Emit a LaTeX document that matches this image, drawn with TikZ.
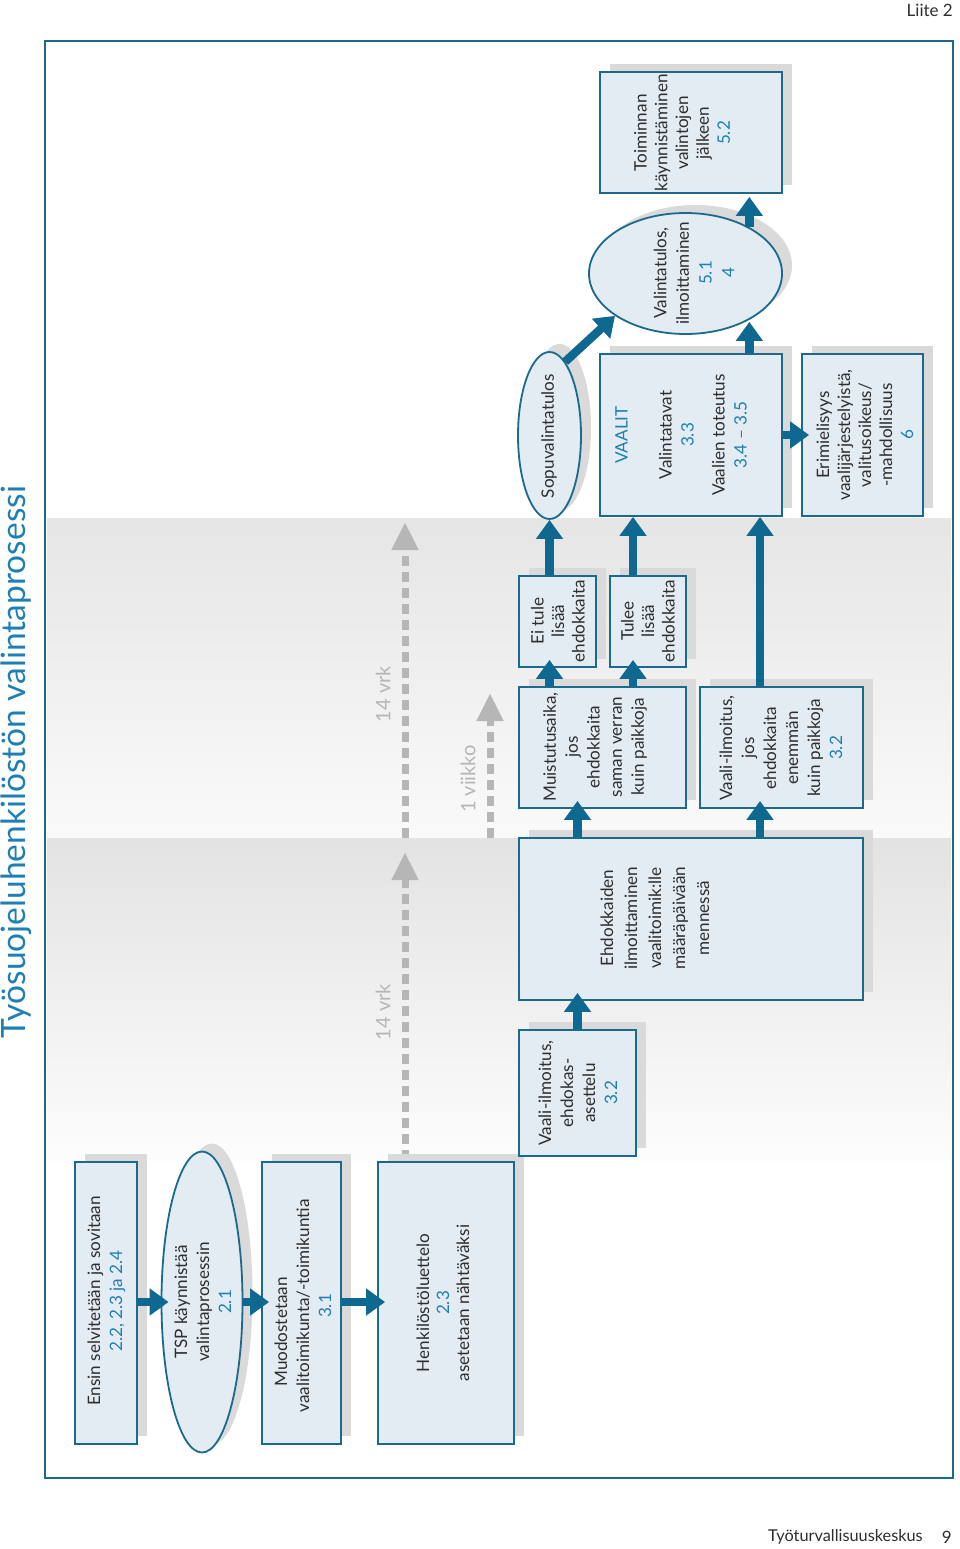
\documentclass[tikz,border=0pt]{standalone}
\usepackage{fontspec}
\setmainfont{Lato}
\usetikzlibrary{arrows.meta,shapes.geometric,shadows}
\definecolor{boxfill}{HTML}{E3EBF3}
\definecolor{border}{HTML}{1B6A8C}
\definecolor{arrowblue}{HTML}{0F6890}
\definecolor{num}{HTML}{1F7FB0}
\definecolor{textgray}{HTML}{2E2E2E}
\definecolor{shadowgray}{HTML}{DADADA}
\definecolor{dashgray}{HTML}{B6B6B6}
\definecolor{titleblue}{HTML}{1E7FB5}
\newcommand\numc[1]{\textcolor{num}{#1}}
\begin{document}
\begin{tikzpicture}[x=1pt,y=-1pt,
  box/.style={draw=border, line width=1.8pt, fill=boxfill, inner sep=0pt,
    drop shadow={shadow xshift=10pt,shadow yshift=8pt,fill=shadowgray,opacity=1}},
  ell/.style={box, ellipse},
  txt/.style={rotate=90, align=center, inner sep=0pt, text=textgray,
    font=\fontsize{17.1}{22}\selectfont},
  bigarrow/.style={draw=arrowblue, line width=8.5pt, -{Triangle[width=26pt,length=19pt]}, shorten >=-8pt},
  graydash/.style={draw=dashgray, line width=7pt, dash pattern=on 10pt off 6pt, -{Triangle[width=25pt,length=28pt]}},
  graylbl/.style={rotate=90, inner sep=0pt, text=dashgray, font=\fontsize{20}{22}\selectfont}]
\useasboundingbox (0,0) rectangle (960,1549);
\fill[white] (0,0) rectangle (960,1549);
% bands
\shade[top color=black!10, bottom color=black!2] (47,518) rectangle (951,838);
\shade[top color=black!11, bottom color=black!1] (47,838) rectangle (951,1160);
% frame
\draw[border, line width=2pt] (45,41) rectangle (953,1478);
% title, header, footer
\node[rotate=90, inner sep=0pt, text=titleblue, font=\fontsize{33.5}{36}\selectfont] (title) at (16,762) {Työsuojeluhenkilöstön valintaprosessi};
\node[anchor=east, inner sep=0pt, text=textgray, font=\fontsize{17}{20}\selectfont] (liite) at (953,10) {Liite 2};
\node[anchor=west, inner sep=0pt, text=textgray, font=\fontsize{16.3}{20}\selectfont] (tyo) at (768,1537) {Työturvallisuuskeskus};
\node[anchor=east, inner sep=0pt, text=textgray, font=\fontsize{17}{20}\selectfont] (sivu) at (952,1537) {9};

% dashed time arrows
\coordinate (d1s) at (405,1160); \coordinate (d1e) at (405,852);
\coordinate (d2s) at (405,838);  \coordinate (d2e) at (405,522);
\coordinate (d3s) at (490,838);  \coordinate (d3e) at (490,693);
\draw[graydash] (d1s) -- (d1e);
\draw[graydash] (d2s) -- (d2e);
\draw[graydash] (d3s) -- (d3e);
\node[graylbl] (l1) at (383,1012) {14 vrk};
\node[graylbl] (l2) at (383,694) {14 vrk};
\node[graylbl] (l3) at (468,779) {1 viikko};

% boxes
\node[box, minimum width=62pt, minimum height=282pt] (ensin) at (106,1303) {};
\node[ell, minimum width=81pt, minimum height=301pt] (tsp) at (202,1302) {};
\node[box, minimum width=79pt, minimum height=282pt] (muod) at (301.5,1303) {};
\node[box, minimum width=136pt, minimum height=282pt] (henk) at (446,1303) {};
\node[box, minimum width=117pt, minimum height=126pt] (vaali1) at (577.5,1093) {};
\node[box, minimum width=344pt, minimum height=162pt] (ehdok) at (691,919) {};
\node[box, minimum width=167pt, minimum height=121pt] (muist) at (602.5,747.5) {};
\node[box, minimum width=163pt, minimum height=121pt] (vaali2) at (781.5,747.5) {};
\node[box, minimum width=77pt, minimum height=91pt] (eitule) at (557.5,621.5) {};
\node[box, minimum width=76pt, minimum height=91pt] (tulee) at (648,621.5) {};
\node[ell, minimum width=63pt, minimum height=167pt] (sopu) at (549.5,435.5) {};
\node[box, minimum width=182pt, minimum height=162pt] (vaalit) at (691,435) {};
\node[box, minimum width=121pt, minimum height=162pt] (erim) at (862.5,435) {};
\node[ell, minimum width=193pt, minimum height=121pt] (valtulos) at (685.5,273.5) {};
\node[box, minimum width=182pt, minimum height=121pt] (toim) at (691,132.5) {};

% texts
\node[txt] (tensin) at (106.5,1301) {Ensin selvitetään ja sovitaan\\\numc{2.2, 2.3 ja 2.4}};
\node[txt] (ttsp) at (203,1302) {TSP käynnistää\\valintaprosessin\\\numc{2.1}};
\node[txt] (tmuod) at (303,1306) {Muodostetaan\hspace*{52pt}\null\\vaalitoimikunta/-toimikuntia\\\numc{3.1}};
\node[txt, font=\fontsize{17.1}{20}\selectfont] (thenk) at (443,1303) {Henkilöstöluettelo\\\numc{2.3}\\asetetaan nähtäväksi};
\node[txt] (tvaali1) at (578,1093) {Vaali-ilmoitus,\\ehdokas-\\asettelu\\\numc{3.2}};
\node[txt, font=\fontsize{17.1}{24}\selectfont] (tehdok) at (655,918) {Ehdokkaiden\\ilmoittaminen\\vaalitoimik:lle\\määräpäivään\\mennessä};
\node[txt] (tmuist) at (595,747) {Muistutusaika,\\jos\\ehdokkaita\\saman verran\\kuin paikkoja};
\node[txt] (tvaali2) at (781,748) {Vaali-ilmoitus,\\jos\\ehdokkaita\\enemmän\\kuin paikkoja\\\numc{3.2}};
\node[txt, font=\fontsize{17.1}{20.5}\selectfont] (teitule) at (558,621) {Ei tule\\lisää\\ehdokkaita};
\node[txt, font=\fontsize{17.1}{20.5}\selectfont] (ttulee) at (648,621) {Tulee\\lisää\\ehdokkaita};
\node[txt] (tsopu) at (549,436) {Sopuvalintatulos};
\node[txt] (tvaalit) at (681,435) {\numc{VAALIT}\\[22pt]Valintatavat\\\numc{3.3}\\[9pt]Vaalien toteutus\\\numc{3.4 – 3.5}};
\node[txt, font=\fontsize{17.1}{21}\selectfont] (terim) at (865,435) {Erimielisyys\\vaalijärjestelyistä,\\valitusoikeus/\\-mahdollisuus\\\numc{6}};
\node[txt, font=\fontsize{17.1}{22.7}\selectfont] (tvaltulos) at (694,273) {Valintatulos,\\ilmoittaminen\\\numc{5.1}\\\numc{4}};
\node[txt, font=\fontsize{17.1}{20.8}\selectfont] (ttoim) at (682,133) {Toiminnan\\käynnistäminen\\valintojen\\jälkeen\\\numc{5.2}};

% helper coordinates for arrow columns
\coordinate (x633) at (633,600);
\coordinate (x760) at (760,600);

% arrows
\draw[bigarrow] (ensin.east |- tsp) -- (tsp.west);
\draw[bigarrow] (tsp.east) -- (muod.west |- tsp);
\draw[bigarrow] (muod.east |- tsp) -- (henk.west |- tsp);
\draw[bigarrow] (vaali1.north) -- (vaali1.north |- ehdok.south);
\draw[bigarrow] (ehdok.north -| vaali1) -- (muist.south -| vaali1);
\draw[bigarrow] (ehdok.north -| x760) -- (vaali2.south -| x760);
\draw[bigarrow] (muist.north -| sopu) -- (eitule.south -| sopu);
\draw[bigarrow] (muist.north -| x633) -- (tulee.south -| x633);
\draw[bigarrow, shorten >=0pt] (eitule.north -| sopu) -- (sopu.south);
\draw[bigarrow, shorten >=0pt] (tulee.north -| x633) -- (vaalit.south -| x633);
\draw[bigarrow, shorten >=0pt] (vaali2.north -| x760) -- (vaalit.south -| x760);
\draw[bigarrow] (vaalit.east) -- (erim.west);
\draw[bigarrow, shorten >=2pt] (vaalit.north -| valtulos.-36) -- (valtulos.-36);
\draw[bigarrow, shorten >=3pt] (valtulos.36) -- (valtulos.36 |- toim.south);
\draw[bigarrow, shorten >=0pt] (sopu.78) -- (valtulos.211);
\end{tikzpicture}
\end{document}
